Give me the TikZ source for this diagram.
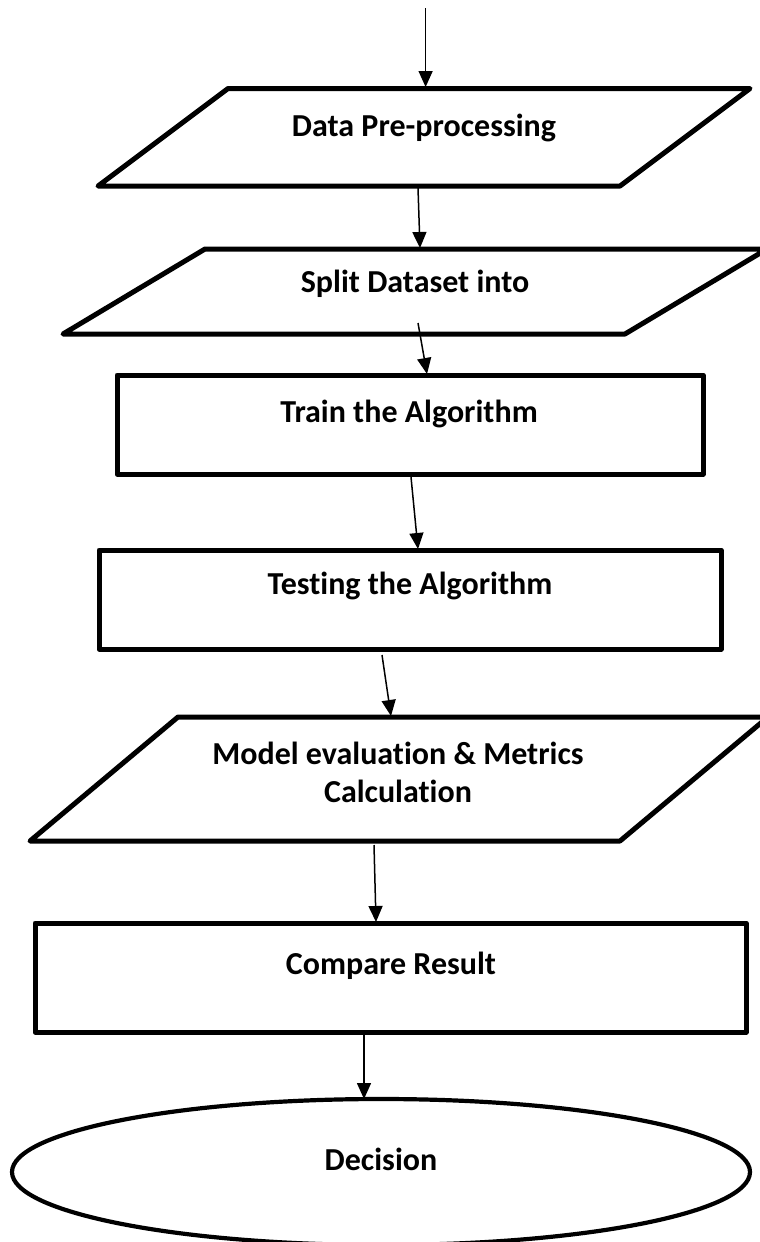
\documentclass[tikz,border=0pt]{standalone}
\usepackage{fontspec}
\setmainfont{Carlito}[Ligatures=NoCommon]
\usetikzlibrary{arrows.meta}
\begin{document}
\begin{tikzpicture}[x=1pt,y=-1pt,
  boxline/.style={line width=5pt, line join=round, line cap=round},
  conn/.style={line width=1.5pt, -{Triangle[length=16pt,width=14pt]}},
  lbl/.style={font=\fontsize{32}{38}\selectfont\bfseries, align=center, inner sep=0pt}]
\useasboundingbox (0,0) rectangle (760,1242);
% shapes
\draw[boxline] (228,88.5) -- (750,88.5) -- (620,186) -- (98,186) -- cycle;
\draw[boxline] (205,249) -- (767,249) -- (625,334) -- (63,334) -- cycle;
\draw[boxline] (117,375) rectangle (703,474);
\draw[boxline] (99,550) rectangle (721,649);
\draw[boxline] (178,717) -- (768,717) -- (620,841) -- (30,841) -- cycle;
\draw[boxline] (35,923) rectangle (746,1032);
\draw[line width=4.2pt] (381,1172) ellipse [x radius=369, y radius=73];
% labels
\node[lbl] (t1) at (424,128) {Data Pre-processing};
\node[lbl] (t2) at (415,284) {Split Dataset into};
\node[lbl] (t3) at (409,414) {Train the Algorithm};
\node[lbl] (t4) at (410,586) {Testing the Algorithm};
\node[lbl] (t5) at (398,772) {Model evaluation \& Metrics\\Calculation};
\node[lbl] (t6) at (391,966) {Compare Result};
\node[lbl] (t7) at (381,1159) {Decision};
% connector ends
\coordinate (a1s) at (425.6,8);   \coordinate (a1e) at (425.6,87);
\coordinate (a2s) at (418,188);   \coordinate (a2e) at (420,248);
\coordinate (a3s) at (418,323);   \coordinate (a3e) at (427,374);
\coordinate (a4s) at (411,477);   \coordinate (a4e) at (418,549);
\coordinate (a5s) at (382,655);   \coordinate (a5e) at (391,716);
\coordinate (a6s) at (374,845);   \coordinate (a6e) at (376,922);
\coordinate (a7s) at (364,1032);  \coordinate (a7e) at (364,1099);
\draw[conn] (a1s) -- (a1e);
\draw[conn] (a2s) -- (a2e);
\draw[conn] (a3s) -- (a3e);
\draw[conn] (a4s) -- (a4e);
\draw[conn] (a5s) -- (a5e);
\draw[conn] (a6s) -- (a6e);
\draw[conn] (a7s) -- (a7e);
\end{tikzpicture}
\end{document}
